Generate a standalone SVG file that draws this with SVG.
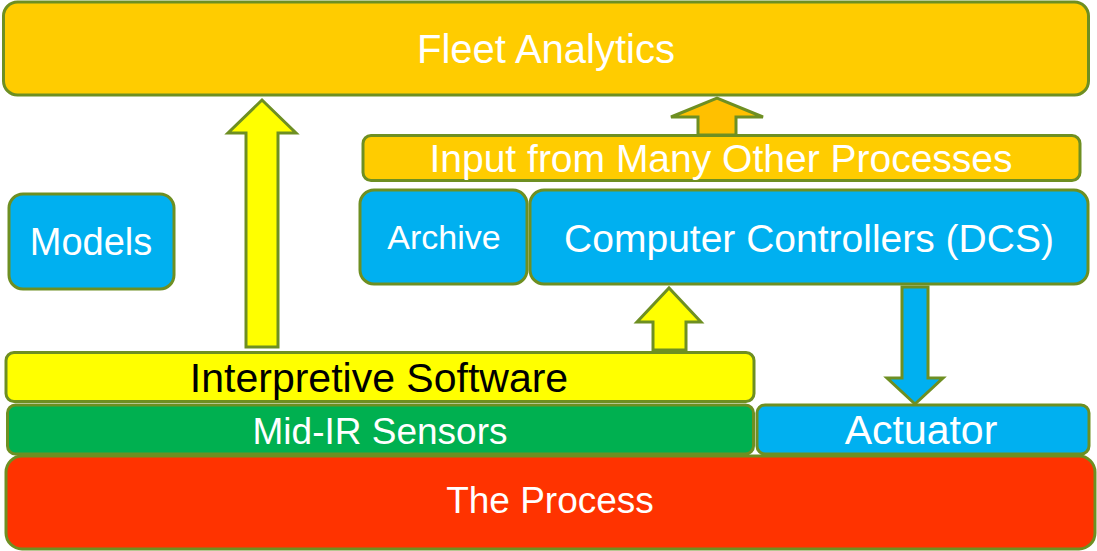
<svg xmlns="http://www.w3.org/2000/svg" width="1097" height="551" viewBox="0 0 1097 551">
<style>
.box{stroke:#6E8F22;stroke-width:3}
.arr{stroke:#6E8F22;stroke-width:3;stroke-linejoin:miter}
text{font-family:"Liberation Sans",Arial,sans-serif;text-anchor:middle;fill:#fff}
</style>
<rect width="1097" height="551" fill="#fff"/>
<g id="connectors">
<path class="arr" fill="#FFFF00" d="M246,347 V133 H228 L262,100 L296,133 H278 V347 Z"/>
<path class="arr" fill="#FFC000" d="M698,135 V117 H671 L717,98 L763,117 H736 V135 Z"/>
<path class="arr" fill="#FFFF00" d="M653,350 V322 H637 L669,288 L701,322 H686 V350 Z"/>
<path class="arr" fill="#00B0F0" d="M902,287 V378 H887 L915,404 L943,378 H928 V287 Z"/>
</g>
<g id="fleet"><rect class="box" x="3.5" y="2" width="1085" height="93" rx="14" fill="#FFCC00"/><text x="546" y="63" font-size="40">Fleet Analytics</text></g>
<g id="input"><rect class="box" x="363" y="135.5" width="717" height="45" rx="8" fill="#FFCC00"/><text x="721" y="172" font-size="39">Input from Many Other Processes</text></g>
<g id="archive"><rect class="box" x="360" y="190" width="167" height="94" rx="14" fill="#00B0F0"/><text x="444" y="249" font-size="34">Archive</text></g>
<g id="dcs"><rect class="box" x="530" y="190" width="558" height="94" rx="14" fill="#00B0F0"/><text x="809" y="252" font-size="39">Computer Controllers (DCS)</text></g>
<g id="models"><rect class="box" x="9" y="194" width="165" height="95" rx="14" fill="#00B0F0"/><text x="91" y="255" font-size="38">Models</text></g>
<g id="software"><rect class="box" x="6" y="352.5" width="748" height="49" rx="8" fill="#FFFF00"/><text x="379" y="392" font-size="41" style="fill:#000">Interpretive Software</text></g>
<g id="sensors"><rect class="box" x="7.5" y="405" width="746" height="49" rx="8" fill="#00B050"/><text x="380" y="444" font-size="37">Mid-IR Sensors</text></g>
<g id="actuator"><rect class="box" x="757" y="405" width="332" height="49" rx="8" fill="#00B0F0"/><text x="921" y="444" font-size="41">Actuator</text></g>
<g id="process"><rect class="box" x="6" y="456" width="1089" height="93" rx="16" fill="#FF3300"/><text x="550" y="513" font-size="37">The Process</text></g>
</svg>
